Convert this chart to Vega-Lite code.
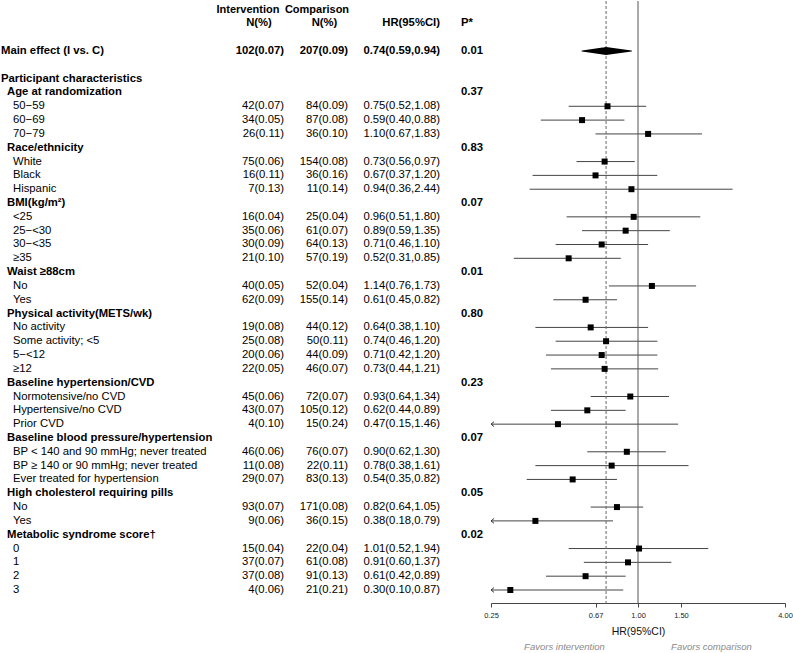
{
  "$schema": "https://vega.github.io/schema/vega-lite/v6.json",
  "width": 793,
  "height": 653,
  "autosize": {"type": "fit", "contains": "padding"},
  "padding": 0,
  "background": "white",
  "config": {"view": {"stroke": null}, "font": "Liberation Sans"},
  "datasets": {
    "rows": [
      {"row": 3, "label": "Main effect (I vs. C)", "level": 0, "kind": "main", "int": "102(0.07)", "comp": "207(0.09)", "hr": "0.74(0.59,0.94)", "est": 0.74, "lo": 0.59, "hi": 0.94, "p": "0.01"},
      {"row": 5, "label": "Participant characteristics", "level": 0, "kind": "section"},
      {"row": 6, "label": "Age at randomization", "level": 1, "kind": "group", "p": "0.37"},
      {"row": 7, "label": "50−59", "level": 2, "kind": "sub", "int": "42(0.07)", "comp": "84(0.09)", "hr": "0.75(0.52,1.08)", "est": 0.75, "lo": 0.52, "hi": 1.08},
      {"row": 8, "label": "60−69", "level": 2, "kind": "sub", "int": "34(0.05)", "comp": "87(0.08)", "hr": "0.59(0.40,0.88)", "est": 0.59, "lo": 0.40, "hi": 0.88},
      {"row": 9, "label": "70−79", "level": 2, "kind": "sub", "int": "26(0.11)", "comp": "36(0.10)", "hr": "1.10(0.67,1.83)", "est": 1.10, "lo": 0.67, "hi": 1.83},
      {"row": 10, "label": "Race/ethnicity", "level": 1, "kind": "group", "p": "0.83"},
      {"row": 11, "label": "White", "level": 2, "kind": "sub", "int": "75(0.06)", "comp": "154(0.08)", "hr": "0.73(0.56,0.97)", "est": 0.73, "lo": 0.56, "hi": 0.97},
      {"row": 12, "label": "Black", "level": 2, "kind": "sub", "int": "16(0.11)", "comp": "36(0.16)", "hr": "0.67(0.37,1.20)", "est": 0.67, "lo": 0.37, "hi": 1.20},
      {"row": 13, "label": "Hispanic", "level": 2, "kind": "sub", "int": "7(0.13)", "comp": "11(0.14)", "hr": "0.94(0.36,2.44)", "est": 0.94, "lo": 0.36, "hi": 2.44},
      {"row": 14, "label": "BMI(kg/m²)", "level": 1, "kind": "group", "p": "0.07"},
      {"row": 15, "label": "<25", "level": 2, "kind": "sub", "int": "16(0.04)", "comp": "25(0.04)", "hr": "0.96(0.51,1.80)", "est": 0.96, "lo": 0.51, "hi": 1.80},
      {"row": 16, "label": "25−<30", "level": 2, "kind": "sub", "int": "35(0.06)", "comp": "61(0.07)", "hr": "0.89(0.59,1.35)", "est": 0.89, "lo": 0.59, "hi": 1.35},
      {"row": 17, "label": "30−<35", "level": 2, "kind": "sub", "int": "30(0.09)", "comp": "64(0.13)", "hr": "0.71(0.46,1.10)", "est": 0.71, "lo": 0.46, "hi": 1.10},
      {"row": 18, "label": "≥35", "level": 2, "kind": "sub", "int": "21(0.10)", "comp": "57(0.19)", "hr": "0.52(0.31,0.85)", "est": 0.52, "lo": 0.31, "hi": 0.85},
      {"row": 19, "label": "Waist ≥88cm", "level": 1, "kind": "group", "p": "0.01"},
      {"row": 20, "label": "No", "level": 2, "kind": "sub", "int": "40(0.05)", "comp": "52(0.04)", "hr": "1.14(0.76,1.73)", "est": 1.14, "lo": 0.76, "hi": 1.73},
      {"row": 21, "label": "Yes", "level": 2, "kind": "sub", "int": "62(0.09)", "comp": "155(0.14)", "hr": "0.61(0.45,0.82)", "est": 0.61, "lo": 0.45, "hi": 0.82},
      {"row": 22, "label": "Physical activity(METS/wk)", "level": 1, "kind": "group", "p": "0.80"},
      {"row": 23, "label": "No activity", "level": 2, "kind": "sub", "int": "19(0.08)", "comp": "44(0.12)", "hr": "0.64(0.38,1.10)", "est": 0.64, "lo": 0.38, "hi": 1.10},
      {"row": 24, "label": "Some activity; <5", "level": 2, "kind": "sub", "int": "25(0.08)", "comp": "50(0.11)", "hr": "0.74(0.46,1.20)", "est": 0.74, "lo": 0.46, "hi": 1.20},
      {"row": 25, "label": "5−<12", "level": 2, "kind": "sub", "int": "20(0.06)", "comp": "44(0.09)", "hr": "0.71(0.42,1.20)", "est": 0.71, "lo": 0.42, "hi": 1.20},
      {"row": 26, "label": "≥12", "level": 2, "kind": "sub", "int": "22(0.05)", "comp": "46(0.07)", "hr": "0.73(0.44,1.21)", "est": 0.73, "lo": 0.44, "hi": 1.21},
      {"row": 27, "label": "Baseline hypertension/CVD", "level": 1, "kind": "group", "p": "0.23"},
      {"row": 28, "label": "Normotensive/no CVD", "level": 2, "kind": "sub", "int": "45(0.06)", "comp": "72(0.07)", "hr": "0.93(0.64,1.34)", "est": 0.93, "lo": 0.64, "hi": 1.34},
      {"row": 29, "label": "Hypertensive/no CVD", "level": 2, "kind": "sub", "int": "43(0.07)", "comp": "105(0.12)", "hr": "0.62(0.44,0.89)", "est": 0.62, "lo": 0.44, "hi": 0.89},
      {"row": 30, "label": "Prior CVD", "level": 2, "kind": "sub", "int": "4(0.10)", "comp": "15(0.24)", "hr": "0.47(0.15,1.46)", "est": 0.47, "lo": 0.15, "hi": 1.46},
      {"row": 31, "label": "Baseline blood pressure/hypertension", "level": 1, "kind": "group", "p": "0.07"},
      {"row": 32, "label": "BP < 140 and 90 mmHg; never treated", "level": 2, "kind": "sub", "int": "46(0.06)", "comp": "76(0.07)", "hr": "0.90(0.62,1.30)", "est": 0.90, "lo": 0.62, "hi": 1.30},
      {"row": 33, "label": "BP ≥ 140 or 90 mmHg; never treated", "level": 2, "kind": "sub", "int": "11(0.08)", "comp": "22(0.11)", "hr": "0.78(0.38,1.61)", "est": 0.78, "lo": 0.38, "hi": 1.61},
      {"row": 34, "label": "Ever treated for hypertension", "level": 2, "kind": "sub", "int": "29(0.07)", "comp": "83(0.13)", "hr": "0.54(0.35,0.82)", "est": 0.54, "lo": 0.35, "hi": 0.82},
      {"row": 35, "label": "High cholesterol requiring pills", "level": 1, "kind": "group", "p": "0.05"},
      {"row": 36, "label": "No", "level": 2, "kind": "sub", "int": "93(0.07)", "comp": "171(0.08)", "hr": "0.82(0.64,1.05)", "est": 0.82, "lo": 0.64, "hi": 1.05},
      {"row": 37, "label": "Yes", "level": 2, "kind": "sub", "int": "9(0.06)", "comp": "36(0.15)", "hr": "0.38(0.18,0.79)", "est": 0.38, "lo": 0.18, "hi": 0.79},
      {"row": 38, "label": "Metabolic syndrome score†", "level": 1, "kind": "group", "p": "0.02"},
      {"row": 39, "label": "0", "level": 2, "kind": "sub", "int": "15(0.04)", "comp": "22(0.04)", "hr": "1.01(0.52,1.94)", "est": 1.01, "lo": 0.52, "hi": 1.94},
      {"row": 40, "label": "1", "level": 2, "kind": "sub", "int": "37(0.07)", "comp": "61(0.08)", "hr": "0.91(0.60,1.37)", "est": 0.91, "lo": 0.60, "hi": 1.37},
      {"row": 41, "label": "2", "level": 2, "kind": "sub", "int": "37(0.08)", "comp": "91(0.13)", "hr": "0.61(0.42,0.89)", "est": 0.61, "lo": 0.42, "hi": 0.89},
      {"row": 42, "label": "3", "level": 2, "kind": "sub", "int": "4(0.06)", "comp": "21(0.21)", "hr": "0.30(0.10,0.87)", "est": 0.30, "lo": 0.10, "hi": 0.87}
    ]
  },
  "data": {"name": "rows"},
  "encoding": {
    "y": {"field": "row", "type": "quantitative", "scale": {"domain": [0, 42], "range": [8.54, 589], "nice": false, "zero": false}, "axis": null}
  },
  "layer": [
    {
      "transform": [{"filter": "datum.level == 0"}],
      "mark": {"type": "text", "align": "left", "baseline": "middle", "fontSize": 11.3, "fontWeight": "bold", "color": "black"},
      "encoding": {"x": {"value": 1}, "text": {"field": "label"}}
    },
    {
      "transform": [{"filter": "datum.level == 1"}],
      "mark": {"type": "text", "align": "left", "baseline": "middle", "fontSize": 11.3, "fontWeight": "bold", "color": "black"},
      "encoding": {"x": {"value": 7}, "text": {"field": "label"}}
    },
    {
      "transform": [{"filter": "datum.level == 2"}],
      "mark": {"type": "text", "align": "left", "baseline": "middle", "fontSize": 11.3, "color": "black"},
      "encoding": {"x": {"value": 13}, "text": {"field": "label"}}
    },
    {
      "transform": [{"filter": "datum.level == 2"}],
      "mark": {"type": "text", "align": "right", "baseline": "middle", "fontSize": 11.3, "color": "black"},
      "encoding": {"x": {"value": 284}, "text": {"field": "int"}}
    },
    {
      "transform": [{"filter": "datum.level == 2"}],
      "mark": {"type": "text", "align": "right", "baseline": "middle", "fontSize": 11.3, "color": "black"},
      "encoding": {"x": {"value": 348}, "text": {"field": "comp"}}
    },
    {
      "transform": [{"filter": "datum.level == 2"}],
      "mark": {"type": "text", "align": "right", "baseline": "middle", "fontSize": 11.3, "color": "black"},
      "encoding": {"x": {"value": 440}, "text": {"field": "hr"}}
    },
    {
      "transform": [{"filter": "datum.kind == 'main'"}],
      "mark": {"type": "text", "align": "right", "baseline": "middle", "fontSize": 11.3, "fontWeight": "bold", "color": "black"},
      "encoding": {"x": {"value": 284}, "text": {"field": "int"}}
    },
    {
      "transform": [{"filter": "datum.kind == 'main'"}],
      "mark": {"type": "text", "align": "right", "baseline": "middle", "fontSize": 11.3, "fontWeight": "bold", "color": "black"},
      "encoding": {"x": {"value": 348}, "text": {"field": "comp"}}
    },
    {
      "transform": [{"filter": "datum.kind == 'main'"}],
      "mark": {"type": "text", "align": "right", "baseline": "middle", "fontSize": 11.3, "fontWeight": "bold", "color": "black"},
      "encoding": {"x": {"value": 440}, "text": {"field": "hr"}}
    },
    {
      "transform": [{"filter": "isValid(datum.p)"}],
      "mark": {"type": "text", "align": "left", "baseline": "middle", "fontSize": 11.3, "fontWeight": "bold", "color": "black"},
      "encoding": {"x": {"value": 461}, "text": {"field": "p"}}
    },
    {
      "transform": [{"filter": "datum.kind == 'main'"}],
      "mark": {"type": "text", "align": "center", "baseline": "middle", "fontSize": 11, "fontWeight": "bold", "color": "black"},
      "encoding": {"x": {"value": 248}, "y": {"datum": 0}, "text": {"value": "Intervention"}}
    },
    {
      "transform": [{"filter": "datum.kind == 'main'"}],
      "mark": {"type": "text", "align": "center", "baseline": "middle", "fontSize": 11, "fontWeight": "bold", "color": "black"},
      "encoding": {"x": {"value": 317}, "y": {"datum": 0}, "text": {"value": "Comparison"}}
    },
    {
      "transform": [{"filter": "datum.kind == 'main'"}],
      "mark": {"type": "text", "align": "center", "baseline": "middle", "fontSize": 11.3, "fontWeight": "bold", "color": "black"},
      "encoding": {"x": {"value": 259}, "y": {"datum": 1}, "text": {"value": "N(%)"}}
    },
    {
      "transform": [{"filter": "datum.kind == 'main'"}],
      "mark": {"type": "text", "align": "center", "baseline": "middle", "fontSize": 11.3, "fontWeight": "bold", "color": "black"},
      "encoding": {"x": {"value": 324.5}, "y": {"datum": 1}, "text": {"value": "N(%)"}}
    },
    {
      "transform": [{"filter": "datum.kind == 'main'"}],
      "mark": {"type": "text", "align": "right", "baseline": "middle", "fontSize": 11.3, "fontWeight": "bold", "color": "black"},
      "encoding": {"x": {"value": 440}, "y": {"datum": 1}, "text": {"value": "HR(95%CI)"}}
    },
    {
      "transform": [{"filter": "datum.kind == 'main'"}],
      "mark": {"type": "text", "align": "left", "baseline": "middle", "fontSize": 11.3, "fontWeight": "bold", "color": "black"},
      "encoding": {"x": {"value": 461}, "y": {"datum": 1}, "text": {"value": "P*"}}
    },
    {
      "transform": [{"filter": "datum.level == 2"}],
      "mark": {"type": "rule", "color": "#444444", "strokeWidth": 1},
      "encoding": {
        "x": {
          "field": "lo", "type": "quantitative",
          "scale": {"type": "log", "domain": [0.25, 4], "range": [491, 785], "clamp": true, "nice": false},
          "axis": {
            "values": [0.25, 0.67, 1, 1.5, 4], "format": ".2f", "offset": -50, "grid": false,
            "domainColor": "#444444", "tickColor": "#444444", "tickSize": 4, "labelFontSize": 7.5,
            "labelColor": "#222222", "labelPadding": 4, "labelOverlap": false, "labelFlush": false,
            "title": "HR(95%CI)", "titleFontSize": 10.5, "titleFontWeight": "normal", "titleColor": "#111111",
            "titlePadding": 8
          },
          "title": "HR(95%CI)"
        },
        "x2": {"field": "hi"}
      }
    },
    {
      "transform": [{"filter": "datum.kind == 'main'"}],
      "mark": {"type": "rule", "color": "#555555", "strokeWidth": 1},
      "encoding": {"x": {"datum": 1, "type": "quantitative", "title": "HR(95%CI)"}, "y": {"datum": -0.62}, "y2": {"datum": 43.0}}
    },
    {
      "transform": [{"filter": "datum.kind == 'main'"}],
      "mark": {"type": "rule", "color": "#666666", "strokeWidth": 1, "strokeDash": [3, 2]},
      "encoding": {"x": {"field": "est", "type": "quantitative", "title": "HR(95%CI)"}, "y": {"datum": -0.62}, "y2": {"datum": 43.0}}
    },
    {
      "transform": [{"filter": "datum.level == 2 && datum.lo < 0.25"}],
      "mark": {"type": "point", "shape": "M2,-1.6L0,0L2,1.6", "size": 9, "filled": false, "stroke": "#333333", "strokeWidth": 1, "opacity": 1},
      "encoding": {"x": {"field": "lo", "type": "quantitative", "title": "HR(95%CI)"}}
    },
    {
      "transform": [{"filter": "datum.level == 2"}],
      "mark": {"type": "point", "shape": "square", "size": 36, "filled": true, "color": "black", "opacity": 1, "strokeWidth": 0},
      "encoding": {"x": {"field": "est", "type": "quantitative", "title": "HR(95%CI)"}}
    },
    {
      "transform": [{"filter": "datum.kind == 'main'"}, {"fold": ["lo", "est", "hi"], "as": ["k", "v"]}],
      "mark": {"type": "trail", "color": "black"},
      "encoding": {
        "x": {"field": "v", "type": "quantitative", "title": "HR(95%CI)"},
        "size": {"field": "k", "type": "ordinal", "scale": {"type": "ordinal", "domain": ["lo", "est", "hi"], "range": [0, 8, 0]}, "legend": null}
      }
    },
    {
      "transform": [{"filter": "datum.kind == 'main'"}],
      "mark": {"type": "text", "align": "center", "baseline": "middle", "fontSize": 9.5, "fontStyle": "italic", "color": "#8a8a8a"},
      "encoding": {"x": {"datum": 0.5, "type": "quantitative", "title": "HR(95%CI)"}, "y": {"datum": 46.13}, "text": {"value": "Favors intervention"}}
    },
    {
      "transform": [{"filter": "datum.kind == 'main'"}],
      "mark": {"type": "text", "align": "center", "baseline": "middle", "fontSize": 9.5, "fontStyle": "italic", "color": "#8a8a8a"},
      "encoding": {"x": {"datum": 2, "type": "quantitative", "title": "HR(95%CI)"}, "y": {"datum": 46.13}, "text": {"value": "Favors comparison"}}
    }
  ]
}
